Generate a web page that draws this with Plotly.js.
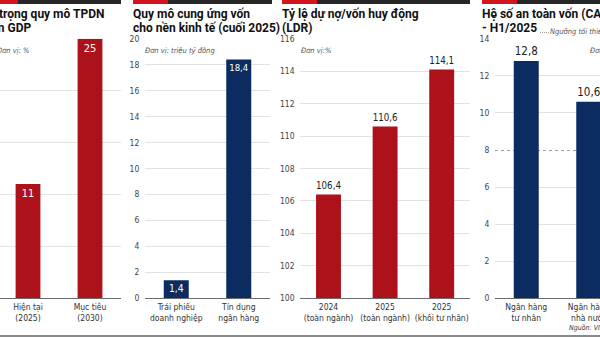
<!DOCTYPE html>
<html>
<head>
<meta charset="utf-8">
<script src="https://cdn.plot.ly/plotly-3.0.1.min.js"></script>
<style>
html,body{margin:0;padding:0;background:#fff;}
#wrap{position:relative;width:600px;height:337px;overflow:hidden;background:#fff;}
#chart{position:absolute;left:-40px;top:0;width:680px;height:337px;}
.ov{position:absolute;white-space:nowrap;z-index:5;pointer-events:none;}
.title{font-family:Roboto,"Noto Sans",sans-serif;font-weight:bold;font-size:12px;line-height:13.5px;color:#111;}
.note{font-family:"Liberation Sans Narrow","DejaVu Sans Condensed",Roboto,sans-serif;font-style:italic;font-size:7.5px;line-height:10px;color:#555;}
</style>
</head>
<body>
<div id="wrap"><div id="chart"></div></div>
<script>
// ---- data ----
const cat1 = ['Hiện tại<br>(2025)', 'Mục tiêu<br>(2030)'];
const val1 = [11, 25];
const cat2 = ['Trái phiếu<br>doanh nghiệp', 'Tín dụng<br>ngân hàng'];
const val2 = [1.4, 18.4];
const cat3 = ['2024<br>(toàn ngành)', '2025<br>(toàn ngành)', '2025<br>(khối tư nhân)'];
const val3 = [106.4, 110.6, 114.1];
const cat4 = ['Ngân hàng<br>tư nhân', 'Ngân hàng<br>nhà nước'];
const val4 = [12.8, 10.6];
const THRESHOLD = 8;
const ticks4 = [0, 2, 4, 6, 10, 12, 14];

const titles = [
  ['Tỷ trọng quy mô TPDN', 'trên GDP'],
  ['Quy mô cung ứng vốn', 'cho nền kinh tế (cuối 2025)'],
  ['Tỷ lệ dự nợ/vốn huy động', '(LDR)'],
  ['Hệ số an toàn vốn (CAR)', '- H1/2025']
];
const units = ['Đơn vị: %', 'Đơn vị: triệu tỷ đồng', 'Đơn vị:%', 'Đơn vị: %'];
const legendText = 'Ngưỡng tối thiểu';
const sourceText = 'Nguồn: VIS Rating';

// ---- styling ----
const W = 680, H = 337, OFF = 40;
const px = x => (x + OFF) / W;
const RED = '#ad111a', NAVY = '#0c2b60', TOPRED = '#d3141d', TOPDARK = '#262626';
const NARROW = '"Liberation Sans Narrow", "DejaVu Sans Condensed", "Roboto", sans-serif';
const yDom = [1 - 298.3 / H, 1 - 38.8 / H];
const xDoms = [[px(-3), px(121)], [px(145), px(270)], [px(300.2), px(470)], [px(495), px(620)]];

const traces = [
  {type:'bar', x:cat1, y:val1, xaxis:'x', yaxis:'y', marker:{color:RED}, width:0.4,
   texttemplate:'%{y}', textposition:'inside', insidetextanchor:'end', textangle:0,
   textfont:{color:'#fff', size:11, family:NARROW}},
  {type:'bar', x:cat2, y:val2, xaxis:'x2', yaxis:'y2', marker:{color:NAVY}, width:0.4,
   texttemplate:'%{y:.1f}', textposition:'inside', insidetextanchor:'end', textangle:0,
   textfont:{color:'#fff', size:11, family:NARROW}},
  {type:'bar', x:cat3, y:val3, xaxis:'x3', yaxis:'y3', marker:{color:RED}, width:0.44,
   texttemplate:'%{y:.1f}', textposition:'outside', cliponaxis:false, textangle:0,
   textfont:{color:'#222', size:11.5, family:NARROW}},
  {type:'bar', x:cat4, y:val4, xaxis:'x4', yaxis:'y4', marker:{color:NAVY}, width:0.4,
   texttemplate:'%{y:.1f}', textposition:'outside', cliponaxis:false, textangle:0,
   textfont:{color:'#222', size:11.5, family:NARROW}},
  // threshold (minimum CAR) carried by an overlay axis whose gridline is dotted
  {type:'scatter', mode:'lines', x:cat4, y:[THRESHOLD, THRESHOLD], xaxis:'x4', yaxis:'y5', line:{width:0}}
];

const xBase = {type:'category', showline:true, linecolor:'#6b6b6b', linewidth:1, showgrid:false,
  ticks:'', tickangle:0, tickfont:{size:8.5, color:'#333', family:NARROW}, fixedrange:true};
const yBase = {showline:false, zeroline:false, showgrid:true, gridcolor:'#e3e3e3', gridwidth:1,
  ticks:'outside', ticklen:3, tickcolor:'rgba(0,0,0,0)', ticklabeloverflow:'allow',
  tickfont:{size:8.5, color:'#444', family:NARROW}, fixedrange:true};

const layout = {
  width:W, height:H, margin:{l:0, r:0, t:0, b:0},
  paper_bgcolor:'#fff', plot_bgcolor:'#fff', showlegend:false,
  separators:', ', bargap:0.6, constraintext:'none',
  xaxis: Object.assign({}, xBase, {domain:xDoms[0], anchor:'y'}),
  xaxis2: Object.assign({}, xBase, {domain:xDoms[1], anchor:'y2'}),
  xaxis3: Object.assign({}, xBase, {domain:xDoms[2], anchor:'y3'}),
  xaxis4: Object.assign({}, xBase, {domain:xDoms[3], anchor:'y4'}),
  yaxis: Object.assign({}, yBase, {domain:yDom, anchor:'x', range:[0,25], tickmode:'linear', tick0:0, dtick:5, showticklabels:false}),
  yaxis2: Object.assign({}, yBase, {domain:yDom, anchor:'x2', range:[0,20], tickmode:'linear', tick0:0, dtick:2}),
  yaxis3: Object.assign({}, yBase, {domain:yDom, anchor:'x3', range:[100,116], tickmode:'linear', tick0:100, dtick:2}),
  yaxis4: Object.assign({}, yBase, {domain:yDom, anchor:'x4', range:[0,14], tickmode:'array', tickvals:ticks4}),
  yaxis5: Object.assign({}, yBase, {overlaying:'y4', anchor:'x4', side:'left', range:[0,14],
    tickmode:'array', tickvals:[THRESHOLD], griddash:'dot', gridcolor:'#a0a0a0'})
};

Plotly.newPlot('chart', traces, layout, {staticPlot:true}).then(gd => {
  // make sure no end-of-range y tick label stays hidden
  gd.querySelectorAll('g.ytick text, g.y2tick text, g.y3tick text, g.y4tick text, g.y5tick text').forEach(t => {
    if (t.getAttribute('display') === 'none') t.removeAttribute('display');
  });
});

// ---- page decoration (titles, notes, colour strips, rules) ----
const wrap = document.getElementById('wrap');
function addDiv(cls, left, top, css, text) {
  const d = document.createElement('div');
  d.className = 'ov ' + cls;
  d.style.left = left + 'px';
  d.style.top = top + 'px';
  if (css) Object.assign(d.style, css);
  if (text !== undefined) d.textContent = text;
  wrap.appendChild(d);
  return d;
}
const strips = [[-17, 18, 121], [133, 168, 272], [282, 317, 470], [482, 517, 640]];
strips.forEach(s => {
  addDiv('', s[0], 0, {width:(s[1]-s[0])+'px', height:'4px', background:TOPRED});
  addDiv('', s[1], 0, {width:(s[2]-s[1])+'px', height:'4px', background:TOPDARK});
});
addDiv('', 0, 335, {width:'600px', height:'1.5px', background:'#8a8a8a'});

const titleX = [-17, 133, 282, 482];
titles.forEach((t, i) => {
  const d = addDiv('title', titleX[i], 8);
  t.forEach((line, j) => {
    if (j) d.appendChild(document.createElement('br'));
    d.appendChild(document.createTextNode(line));
  });
});
const unitX = [-3, 145, 301, 590];
units.forEach((u, i) => addDiv('note', unitX[i], 46, null, u));
addDiv('', 540, 31.5, {width:'9px', height:'0', borderTop:'1px dotted #a0a0a0'});
addDiv('note', 550, 27, null, legendText);
addDiv('note', 569, 323, {fontSize:'7px', color:'#333'}, sourceText);
</script>
</body>
</html>
